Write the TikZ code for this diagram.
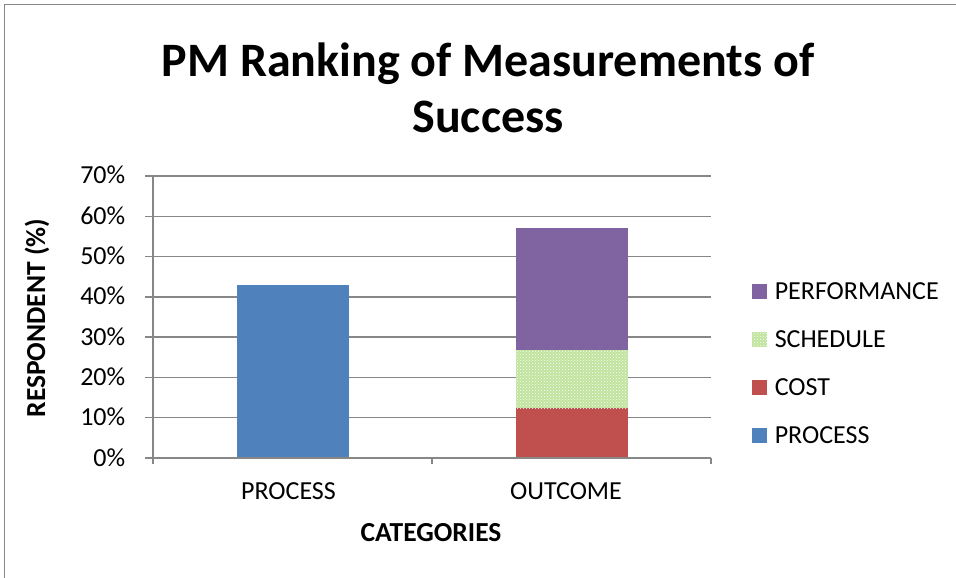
\documentclass[tikz,border=0pt]{standalone}
\usepackage{fontspec}
\setmainfont{Carlito}
\usepackage{xcolor}
\usepackage{tikz}
\usetikzlibrary{patterns}
\definecolor{procblue}{HTML}{4F81BD}
\definecolor{costred}{HTML}{C0504D}
\definecolor{schedgreen}{HTML}{BFE39C}
\definecolor{perfpurple}{HTML}{8064A2}
\definecolor{axisgray}{HTML}{878787}
\tikzset{
  perf/.style={fill=perfpurple},
  sched/.style={fill=schedgreen, postaction={pattern=crosshatch dots, pattern color=white}},
  cost/.style={fill=costred},
  proc/.style={fill=procblue},
  lbl/.style={inner sep=0pt, font=\fontsize{26}{30}\selectfont},
  bold lbl/.style={inner sep=0pt, font=\fontsize{27.5}{30}\selectfont\bfseries}
}

\begin{document}
\begin{tikzpicture}[x=1pt, y=-1pt, line width=1.5pt]
    \useasboundingbox (0,0) rectangle (956,578);
    \draw[axisgray, line width=1pt] (4,578) -- (4,5) -- (956,5);
    \node[inner sep=0pt, align=center, anchor=north, font=\fontsize{48}{56}\selectfont\bfseries] (title) at (488,42) {PM Ranking of Measurements of\\Success};
    \foreach \k in {1,...,7}
        \draw[axisgray] (153,{458-40.29*\k}) -- (711,{458-40.29*\k});
    \fill[proc] (236.5,458) rectangle (348.5,285.3);
    \fill[cost] (515.5,458) rectangle (627.5,408);
    \path[sched] (515.5,408) rectangle (627.5,350);
    \fill[perf] (515.5,350) rectangle (627.5,227.8);
    \draw[axisgray] (153,176) -- (153,458) -- (711,458);
    \foreach \k [evaluate=\k as \pct using int(10*\k)] in {0,...,7} {
        \draw[axisgray] (145,{458-40.29*\k}) -- (153,{458-40.29*\k});
        \node[lbl, anchor=base east] (tick\k) at (126,{466-40.29*\k}) {\pct\%};
    }
    \foreach \x in {153,432,711}
        \draw[axisgray] (\x,458) -- (\x,464);
    \node[lbl, anchor=base] (cat-process) at (288.5,499) {PROCESS};
    \node[lbl, anchor=base] (cat-outcome) at (566,499) {OUTCOME};
    \node[bold lbl, anchor=base] (xtitle) at (431,541) {CATEGORIES};
    \node[bold lbl, rotate=90] (ytitle) at (37,318) {RESPONDENT (\%)};
    \foreach \name/\sty/\yy in {PERFORMANCE/perf/291, SCHEDULE/sched/339, COST/cost/387, PROCESS/proc/435} {
        \path[\sty] (752,\yy-7.5) rectangle (767,\yy+7.5);
        \node[lbl, anchor=base west] (leg-\sty) at (774,\yy+8) {\name};
    }
\end{tikzpicture}
\end{document}
